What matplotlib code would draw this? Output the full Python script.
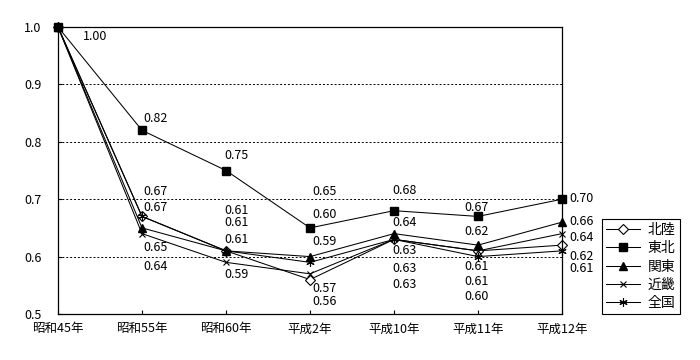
import matplotlib
matplotlib.use('Agg')
import matplotlib.pyplot as plt

plt.rcParams['font.family'] = ['Noto Sans CJK JP', 'DejaVu Sans']

YEARS = ['昭和45年', '昭和55年', '昭和60年', '平成2年', '平成10年', '平成11年', '平成12年']
HOKURIKU = [1.00, 0.67, 0.61, 0.56, 0.63, 0.61, 0.62]
TOHOKU = [1.00, 0.82, 0.75, 0.65, 0.68, 0.67, 0.70]
KANTO = [1.00, 0.65, 0.61, 0.60, 0.64, 0.62, 0.66]
KINKI = [1.00, 0.64, 0.59, 0.57, 0.63, 0.61, 0.64]
ZENKOKU = [1.00, 0.67, 0.61, 0.59, 0.63, 0.60, 0.61]
NAMES = ['北陸', '東北', '関東', '近畿', '全国']

# where each data label sits (value-axis position), None = not drawn
LABEL_Y = {
    '北陸': [0.983, 0.714, 0.681, 0.521, 0.611, 0.582, 0.601],
    '東北': [None, 0.841, 0.777, 0.713, 0.716, 0.686, 0.702],
    '関東': [None, 0.615, 0.629, 0.674, 0.659, 0.643, 0.662],
    '近畿': [None, 0.582, 0.568, 0.545, 0.580, 0.556, 0.634],
    '全国': [None, 0.685, 0.659, 0.627, 0.552, 0.530, 0.580],
}
LABEL_DX = [0.44, 0.16, 0.12, 0.17, 0.12, -0.02, 0.09]

series = [HOKURIKU, TOHOKU, KANTO, KINKI, ZENKOKU]
markers = [
    dict(marker='D', markersize=5, markerfacecolor='white', markeredgecolor='black', markeredgewidth=0.8),
    dict(marker='s', markersize=5.5, markerfacecolor='black', markeredgecolor='black'),
    dict(marker='^', markersize=6, markerfacecolor='black', markeredgecolor='black'),
    dict(marker='x', markersize=5, markeredgecolor='black', markeredgewidth=0.8),
    dict(marker=(6, 2, 0), markersize=6, markeredgecolor='black', markeredgewidth=0.8),
]

fig = plt.figure(figsize=(7, 3.6), dpi=100)
ax = fig.add_axes([58 / 700, 1 - 314 / 360, (562 - 58) / 700, (314 - 27) / 360])

x = list(range(len(YEARS)))
for name, vals, mk in zip(NAMES, series, markers):
    ax.plot(x, vals, color='black', linewidth=0.75, label=name, clip_on=False, **mk)

for name in NAMES:
    for i, ly in enumerate(LABEL_Y[name]):
        if ly is None:
            continue
        val = series[NAMES.index(name)][i]
        ha = 'left' if i == len(YEARS) - 1 else 'center'
        ax.text(i + LABEL_DX[i], ly, f'{val:.2f}', ha=ha, va='center', fontsize=9)

ax.set_xlim(0, len(YEARS) - 1)
ax.set_ylim(0.5, 1.0)
ax.set_xticks(x)
ax.set_xticklabels(YEARS, fontsize=9)
ax.set_yticks([0.5, 0.6, 0.7, 0.8, 0.9, 1.0])
ax.set_yticklabels(['0.5', '0.6', '0.7', '0.8', '0.9', '1.0'], fontsize=9)
ax.tick_params(axis='x', direction='in', length=3, pad=6, width=0.8)
ax.tick_params(axis='y', direction='in', length=3, pad=12, width=0.8)
ax.yaxis.grid(True, linestyle=(0, (2, 2)), color='black', linewidth=0.7)
for s in ax.spines.values():
    s.set_linewidth(0.9)
    s.set_color('black')

leg = ax.legend(loc='upper left', bbox_to_anchor=(602 / 700, 1 - 219 / 360),
                bbox_transform=fig.transFigure, borderaxespad=0, fontsize=10,
                fancybox=False, edgecolor='black', framealpha=1,
                handlelength=2.4, handletextpad=0.6, labelspacing=0.3, borderpad=0.3)
leg.get_frame().set_linewidth(0.8)

fig.savefig('out.png', dpi=100)
